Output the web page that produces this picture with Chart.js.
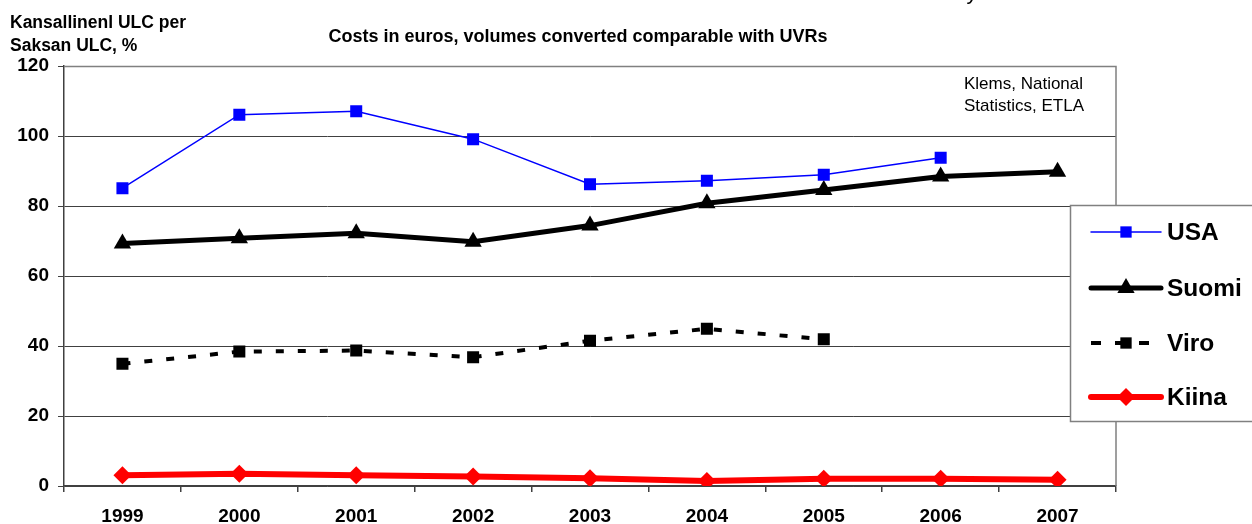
<!DOCTYPE html>
<html>
<head>
<meta charset="utf-8">
<script src="https://cdn.jsdelivr.net/npm/chart.js@4"></script>
<style>
  body { margin: 0; background: #fff; }
  #wrap { width: 1252px; height: 524px; position: relative; }
</style>
</head>
<body>
<div id="wrap"><canvas id="ulcChart" width="1252" height="524"></canvas></div>
<script>
// Years on the x axis
const years = ['1999', '2000', '2001', '2002', '2003', '2004', '2005', '2006', '2007'];

// Series values (national ULC as % of German ULC)
const usaValues   = [85.1, 106.1, 107.1, 99.1, 86.2, 87.2, 88.9, 93.8, null];
const suomiValues = [69.3, 70.8, 72.2, 69.8, 74.4, 80.8, 84.6, 88.4, 89.8];
const viroValues  = [34.9, 38.4, 38.7, 36.8, 41.5, 44.9, 41.9, null, null];
const kiinaValues = [3.1, 3.5, 3.1, 2.7, 2.2, 1.4, 2.1, 2.1, 1.8];

const yTicks = [0, 20, 40, 60, 80, 100, 120];

const FONT = '"Liberation Sans", Arial, sans-serif';

// Draws titles, source note, plot border and the boxed legend
const decorations = {
    id: 'decorations',
    afterDraw(chart) {
        const ctx = chart.ctx;
        const area = chart.chartArea;
        ctx.save();

        // gray border on top and right of plot area
        ctx.strokeStyle = '#808080';
        ctx.lineWidth = 1.5;
        ctx.beginPath();
        ctx.moveTo(area.left, area.top + 0.5);
        ctx.lineTo(area.right, area.top + 0.5);
        ctx.lineTo(area.right, area.bottom);
        ctx.stroke();

        ctx.fillStyle = '#000';
        ctx.textBaseline = 'middle';
        ctx.textAlign = 'left';
        ctx.font = 'bold 17.5px ' + FONT;
        ctx.fillText('Kansallinenl ULC per', 10, 23);
        ctx.fillText('Saksan ULC, %', 10, 46);

        ctx.textAlign = 'center';
        ctx.font = 'bold 18px ' + FONT;
        ctx.fillText('Costs in euros, volumes converted comparable with UVRs', 578, 37);

        // cut-off letter from the main title above the picture
        ctx.textBaseline = 'alphabetic';
        ctx.font = '22px ' + FONT;
        ctx.fillText('y', 972, -1);

        ctx.textBaseline = 'middle';
        ctx.textAlign = 'left';
        ctx.font = '17px ' + FONT;
        ctx.fillText('Klems, National', 964, 84);
        ctx.fillText('Statistics, ETLA', 964, 106);

        // legend box
        ctx.fillStyle = '#fff';
        ctx.fillRect(1070, 205, 190, 217);
        ctx.strokeStyle = '#808080';
        ctx.lineWidth = 1.5;
        ctx.strokeRect(1070.5, 205.5, 190, 216);

        const items = [
            { label: 'USA', y: 232, color: '#0000ff', width: 1.5, dash: [], shape: 'rect', r: 8 },
            { label: 'Suomi', y: 288, color: '#000', width: 5, dash: [], shape: 'triangle', r: 10 },
            { label: 'Viro', y: 343, color: '#000', width: 4, dash: [10, 14], shape: 'rect', r: 8 },
            { label: 'Kiina', y: 397, color: '#ff0000', width: 6, dash: [], shape: 'rectRot', r: 9 }
        ];
        items.forEach(it => {
            ctx.strokeStyle = it.color;
            ctx.lineWidth = it.width;
            ctx.lineCap = it.dash.length ? 'butt' : 'round';
            ctx.setLineDash(it.dash);
            ctx.beginPath();
            ctx.moveTo(1091, it.y);
            ctx.lineTo(1161, it.y);
            ctx.stroke();
            ctx.setLineDash([]);
            ctx.fillStyle = it.color;
            Chart.helpers.drawPoint(ctx, { pointStyle: it.shape, radius: it.r, rotation: 0, borderWidth: 0 }, 1126, it.y);
            ctx.fillStyle = '#000';
            ctx.font = 'bold 24.5px ' + FONT;
            ctx.fillText(it.label, 1167, it.y + 1);
        });
        ctx.restore();
    }
};

const ctx = document.getElementById('ulcChart');

new Chart(ctx, {
    type: 'line',
    data: {
        labels: years,
        datasets: [
            {
                label: 'USA', data: usaValues,
                borderColor: '#0000ff', backgroundColor: '#0000ff', borderWidth: 1.5,
                pointStyle: 'rect', pointRadius: 8.5, pointBorderWidth: 0
            },
            {
                label: 'Suomi', data: suomiValues,
                borderColor: '#000', backgroundColor: '#000', borderWidth: 5,
                pointStyle: 'triangle', pointRadius: 10, pointBorderWidth: 0
            },
            {
                label: 'Viro', data: viroValues,
                borderColor: '#000', backgroundColor: '#000', borderWidth: 4, borderDash: [8, 14],
                pointStyle: 'rect', pointRadius: 8.5, pointBorderWidth: 0
            },
            {
                label: 'Kiina', data: kiinaValues,
                borderColor: '#ff0000', backgroundColor: '#ff0000', borderWidth: 6,
                pointStyle: 'rectRot', pointRadius: 9, pointBorderWidth: 0
            }
        ]
    },
    options: {
        responsive: false,
        animation: false,
        layout: { padding: { top: 66, right: 136, bottom: 0, left: 0 } },
        plugins: {
            legend: { display: false },
            title: { display: false },
            tooltip: { enabled: false }
        },
        scales: {
            x: {
                offset: true,
                grid: {
                    offset: true, drawOnChartArea: false, tickLength: 6,
                    color: '#404040', lineWidth: 1.5
                },
                border: { color: '#404040', width: 1.5 },
                ticks: {
                    color: '#000', padding: 13,
                    font: { family: FONT, size: 19, weight: 'bold' }
                },
                afterFit(scale) { scale.height = 38; }
            },
            y: {
                min: 0, max: 120,
                afterBuildTicks(scale) { scale.ticks = yTicks.map(v => ({ value: v })); },
                grid: {
                    color: '#404040', lineWidth: 1, tickLength: 6
                },
                border: { color: '#404040', width: 1.5 },
                ticks: {
                    color: '#000', padding: 9,
                    font: { family: FONT, size: 19, weight: 'bold' }
                },
                afterFit(scale) { scale.width = 64; }
            }
        }
    },
    plugins: [decorations]
});
</script>
</body>
</html>
